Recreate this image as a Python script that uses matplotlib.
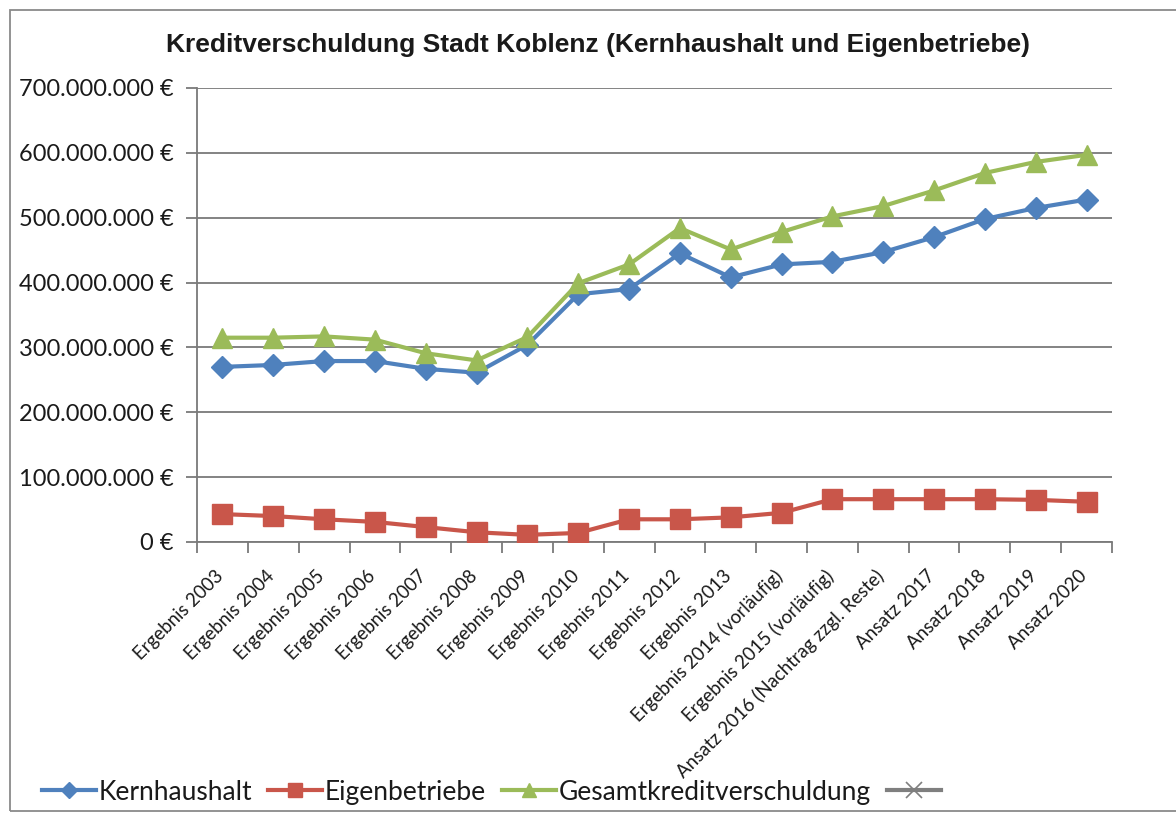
import matplotlib
matplotlib.use("Agg")
import matplotlib.pyplot as plt
from matplotlib.patches import Rectangle
from matplotlib.ticker import FuncFormatter, FixedLocator
from matplotlib.transforms import ScaledTranslation

categories = [
    "Ergebnis 2003", "Ergebnis 2004", "Ergebnis 2005", "Ergebnis 2006",
    "Ergebnis 2007", "Ergebnis 2008", "Ergebnis 2009", "Ergebnis 2010",
    "Ergebnis 2011", "Ergebnis 2012", "Ergebnis 2013",
    "Ergebnis 2014 (vorläufig)", "Ergebnis 2015 (vorläufig)",
    "Ansatz 2016 (Nachtrag zzgl. Reste)", "Ansatz 2017", "Ansatz 2018",
    "Ansatz 2019", "Ansatz 2020",
]
kernhaushalt = [270, 273, 279, 279, 267, 261, 304, 382, 390, 445, 408,
                428, 432, 447, 470, 498, 515, 528]
eigenbetriebe = [43, 40, 35, 31, 23, 15, 11, 14, 35, 35, 38,
                 45, 66, 66, 66, 66, 65, 62]
gesamt = [315, 315, 317, 312, 291, 280, 316, 399, 428, 484, 451,
          478, 502, 518, 542, 569, 586, 597]
series_names = ["Kernhaushalt", "Eigenbetriebe", "Gesamtkreditverschuldung", " "]
yticks = [0, 100, 200, 300, 400, 500, 600, 700]

M = 1_000_000
c_blue = "#4F81BD"
c_red = "#C9564A"
c_green = "#9BBB59"
c_grey = "#7F7F7F"
txt = "#1a1a1a"
lab_font = ["Lato", "DejaVu Sans"]

fig = plt.figure(figsize=(11.76, 8.13), dpi=100)
ax = fig.add_axes([197/1176, 1-542/813, (1112-197)/1176, (542-88)/813])

x = list(range(len(categories)))
l1, = ax.plot(x, [v*M for v in kernhaushalt], color=c_blue, lw=3, marker="D",
              ms=11, label=series_names[0], zorder=4)
l2, = ax.plot(x, [v*M for v in eigenbetriebe], color=c_red, lw=3, marker="s",
              ms=14, label=series_names[1], zorder=4)
l3, = ax.plot(x, [v*M for v in gesamt], color=c_green, lw=3, marker="^",
              ms=14, label=series_names[2], zorder=5)
l4, = ax.plot([], [], color=c_grey, lw=3, marker="x", ms=15, mew=1.2,
              label=series_names[3])

ax.set_xlim(-0.5, len(categories)-0.5)
ax.set_ylim(0, 700*M)
ax.set_yticks([v*M for v in yticks])
ax.yaxis.set_major_formatter(FuncFormatter(
    lambda v, p: "{:,.0f} €".format(v).replace(",", ".")))
ax.grid(axis="y", color="#7a7a7a", lw=1.3)
ax.set_axisbelow(True)
for s in ["top", "right"]:
    ax.spines[s].set_visible(False)
for s in ["left", "bottom"]:
    ax.spines[s].set_color("#7a7a7a")
    ax.spines[s].set_linewidth(1.3)

ax.set_xticks(x)
ax.set_xticklabels(categories, rotation=45, ha="right", rotation_mode="anchor",
                   fontsize=13.4, family=lab_font, color=txt)
ax.tick_params(axis="x", which="major", length=0, pad=10)
shift = ScaledTranslation(-0.08, -0.11, fig.dpi_scale_trans)
for t in ax.get_xticklabels():
    t.set_transform(t.get_transform() + shift)
ax.xaxis.set_minor_locator(FixedLocator([i-0.5 for i in range(len(categories)+1)]))
ax.tick_params(axis="x", which="minor", length=8, color="#7a7a7a", width=1.3)
ax.tick_params(axis="y", length=8, color="#7a7a7a", width=1.3, pad=9,
               labelsize=17)
for t in ax.get_yticklabels():
    t.set_family(lab_font)
    t.set_color(txt)

fig.text(598/1176, 1-45/813,
         "Kreditverschuldung Stadt Koblenz (Kernhaushalt und Eigenbetriebe)",
         ha="center", va="center", fontsize=19, fontweight="bold",
         family=["Liberation Sans", "DejaVu Sans"], color=txt)

fig.legend(handles=[l1, l2, l3, l4], labels=series_names, loc="center left",
           bbox_to_anchor=(42/1176, 1-792/813), ncol=4, frameon=False,
           handlelength=2.05, handletextpad=0.1, columnspacing=0.6,
           markerscale=0.75, borderaxespad=0, borderpad=0,
           prop={"family": lab_font, "size": 19}, labelcolor=txt)

fig.patches.append(Rectangle((10/1176, 2/813), 1.2, 1-12/813,
                             transform=fig.transFigure, fill=False,
                             edgecolor="#8a8a8a", lw=1.3))

fig.savefig("out.png", dpi=100)
